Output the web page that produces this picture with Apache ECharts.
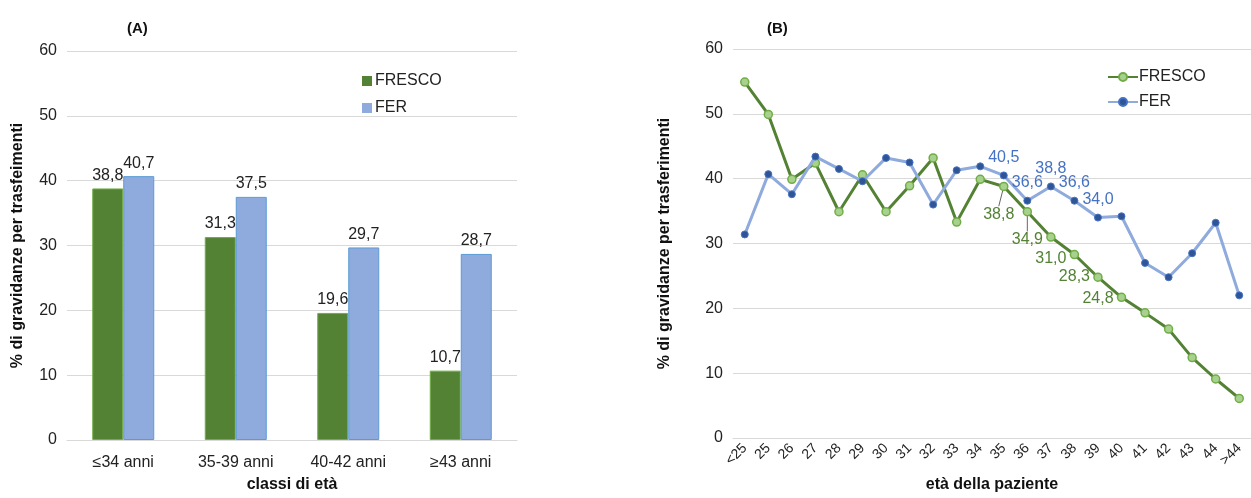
<!DOCTYPE html>
<html>
<head>
<meta charset="utf-8">
<script src="https://cdn.jsdelivr.net/npm/echarts@6/dist/echarts.min.js"></script>
<style>
html,body{margin:0;padding:0;background:#fff;}
#main{width:1251px;height:498px;}
</style>
</head>
<body>
<div id="main"></div>
<script>
// ---- Panel A data ----
var classCats = ['≤34 anni', '35-39 anni', '40-42 anni', '≥43 anni'];
var barFresco = [38.8, 31.3, 19.6, 10.7];
var barFer = [40.7, 37.5, 29.7, 28.7];

// ---- Panel B data ----
var ageCats = ['<25','25','26','27','28','29','30','31','32','33','34','35','36','37','38','39','40','41','42','43','44','>44'];
var lineFresco = [54.9, 49.9, 39.9, 42.4, 34.9, 40.6, 34.9, 38.9, 43.2, 33.3, 39.9, 38.8, 34.9, 31.0, 28.3, 24.8, 21.7, 19.3, 16.8, 12.4, 9.1, 6.1];
var lineFer = [31.4, 40.7, 37.6, 43.4, 41.5, 39.6, 43.2, 42.5, 36.0, 41.3, 41.9, 40.5, 36.6, 38.8, 36.6, 34.0, 34.2, 27.0, 24.8, 28.5, 33.2, 22.0];
var labeledIdx = [11, 12, 13, 14, 15];
var leaderIdx = [11, 12];

function fmt(v) { return Number(v).toFixed(1).replace('.', ','); }

var FONT = 'Liberation Sans, Arial, sans-serif';
var GREEN = '#548235', LGREEN = '#A9D18E', MGREEN = '#70AD47';
var BLUE = '#8FAADC', DBLUE = '#2F5597', MBLUE = '#4472C4';

var chart = echarts.init(document.getElementById('main'), null, {renderer: 'canvas'});

function yAxisCfg(gi) {
  return {
    type: 'value', gridIndex: gi, min: 0, max: 60, interval: 10,
    name: '% di gravidanze per ' + (gi === 0 ? 'trasfeimenti' : 'trasferimenti'),
    nameLocation: 'middle', nameGap: gi === 0 ? 41 : 60,
    nameTextStyle: {fontFamily: FONT, fontSize: 16, fontWeight: 'bold', color: '#111'},
    axisLine: {show: false}, axisTick: {show: false},
    axisLabel: {fontFamily: FONT, fontSize: 16, color: '#222', margin: 10},
    splitLine: {lineStyle: {color: '#D9D9D9', width: 1}}
  };
}

var option = {
  backgroundColor: '#fff',
  animation: false,
  title: [
    {text: '(A)', left: 122, top: 16, textStyle: {fontFamily: FONT, fontSize: 15, fontWeight: 'bold', color: '#111'}},
    {text: '(B)', left: 762, top: 16, textStyle: {fontFamily: FONT, fontSize: 15, fontWeight: 'bold', color: '#111'}}
  ],
  legend: [
    {
      data: ['FRESCO', 'FER'],
      orient: 'vertical', left: 357, top: 68, itemGap: 11,
      itemWidth: 10, itemHeight: 10, icon: 'rect', itemStyle: {borderWidth: 0},
      textStyle: {fontFamily: FONT, fontSize: 16, color: '#222', padding: [0, 0, 0, -2]},
      selectedMode: false
    },
    {
      data: ['FRESCO ', 'FER '],
      orient: 'vertical', left: 1102, top: 64, itemGap: 9,
      itemWidth: 30, itemHeight: 10,
      formatter: function (n) { return n.trim(); },
      textStyle: {fontFamily: FONT, fontSize: 16, color: '#222', padding: [0, 0, 0, -4]},
      selectedMode: false
    }
  ],
  grid: [
    {left: 67, top: 51, width: 450, height: 394},
    {left: 733, top: 49, width: 520, height: 394}
  ],
  xAxis: [
    {
      type: 'category', gridIndex: 0, data: classCats,
      name: 'classi di età', nameLocation: 'middle', nameGap: 37,
      nameTextStyle: {fontFamily: FONT, fontSize: 16, fontWeight: 'bold', color: '#111'},
      axisLine: {lineStyle: {color: '#D9D9D9'}}, axisTick: {show: false},
      axisLabel: {fontFamily: FONT, fontSize: 16, color: '#222', margin: 15}
    },
    {
      type: 'category', gridIndex: 1, data: ageCats,
      name: 'età della paziente', nameLocation: 'middle', nameGap: 39,
      nameTextStyle: {fontFamily: FONT, fontSize: 16, fontWeight: 'bold', color: '#111'},
      axisLine: {lineStyle: {color: '#D9D9D9'}}, axisTick: {show: false},
      axisLabel: {fontFamily: FONT, fontSize: 14, color: '#222', rotate: 45, interval: 0, margin: 8}
    }
  ],
  yAxis: [yAxisCfg(0), yAxisCfg(1)],
  series: [
    {
      name: 'FRESCO', type: 'bar', xAxisIndex: 0, yAxisIndex: 0, data: barFresco,
      barWidth: 31, barGap: '0%',
      itemStyle: {color: GREEN, borderColor: MGREEN, borderWidth: 1},
      label: {show: true, position: 'top', distance: 5, fontFamily: FONT, fontSize: 16, color: '#222',
        formatter: function (p) { return fmt(p.value); }}
    },
    {
      name: 'FER', type: 'bar', xAxisIndex: 0, yAxisIndex: 0, data: barFer,
      barWidth: 31, barGap: '0%',
      itemStyle: {color: BLUE, borderColor: '#5B9BD5', borderWidth: 1},
      label: {show: true, position: 'top', distance: 5, fontFamily: FONT, fontSize: 16, color: '#222',
        formatter: function (p) { return fmt(p.value); }}
    },
    {
      name: 'FRESCO ', type: 'line', xAxisIndex: 1, yAxisIndex: 1, z: 3,
      data: lineFresco.map(function (v, i) {
        return {
          value: v,
          label: {show: labeledIdx.indexOf(i) >= 0},
          labelLine: {show: leaderIdx.indexOf(i) >= 0}
        };
      }),
      symbol: 'circle', symbolSize: 8,
      lineStyle: {color: GREEN, width: 3},
      itemStyle: {color: LGREEN, borderColor: MGREEN, borderWidth: 1.5},
      label: {position: 'bottom', distance: 9, fontFamily: FONT, fontSize: 16, color: GREEN,
        formatter: function (p) { return fmt(p.value); }},
      labelLine: {show: false, lineStyle: {color: '#666', width: 1}, length2: 0},
      labelLayout: function (p) {
        if (p.dataIndex === 11) return {dx: -5, dy: 6};
        if (p.dataIndex === 12) return {dx: 0, dy: 6};
        return {};
      }
    },
    {
      name: 'FER ', type: 'line', xAxisIndex: 1, yAxisIndex: 1, z: 4,
      data: lineFer.map(function (v, i) {
        return {value: v, label: {show: labeledIdx.indexOf(i) >= 0}};
      }),
      symbol: 'circle', symbolSize: 7,
      lineStyle: {color: BLUE, width: 3},
      itemStyle: {color: DBLUE, borderColor: MBLUE, borderWidth: 1},
      label: {position: 'top', distance: 6, fontFamily: FONT, fontSize: 16, color: MBLUE,
        formatter: function (p) { return fmt(p.value); }}
    }
  ]
};
chart.setOption(option);
</script>
</body>
</html>
